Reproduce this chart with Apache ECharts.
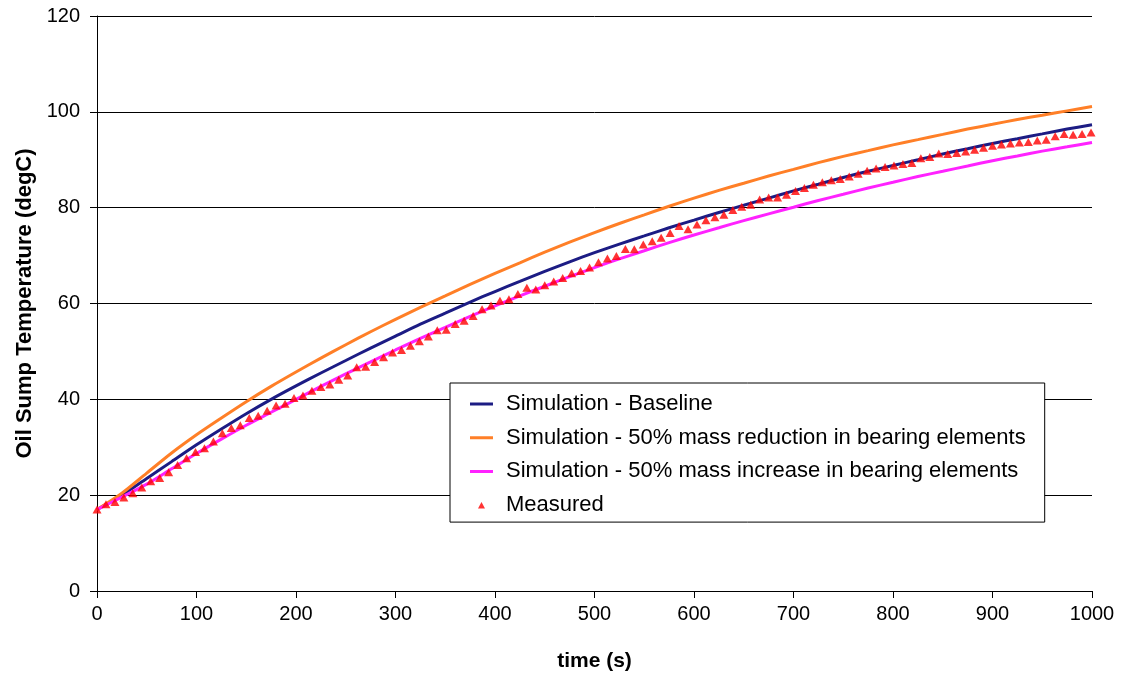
<!DOCTYPE html>
<html>
<head>
<meta charset="utf-8">
<script src="https://cdn.jsdelivr.net/npm/echarts@6/dist/echarts.min.js"></script>
<style>
html,body{margin:0;padding:0;background:#fff;}
#chart{width:1130px;height:675px;}
</style>
</head>
<body>
<div id="chart"></div>
<script>
// Simulation curves (time in s, temperature in degC)
const simTime = [0,25,50,75,100,125,150,175,200,225,250,275,300,325,350,375,400,425,450,475,500,
  525,550,575,600,625,650,675,700,725,750,775,800,825,850,875,900,925,950,975,1000];
const baseline = [17,20.0,23.5,27.0,30.5,33.8,37.0,40.0,42.8,45.5,48.1,50.7,53.2,55.7,58.0,60.3,62.5,64.6,66.7,68.7,70.6,
  72.4,74.1,75.8,77.4,79.0,80.5,82.0,83.5,84.9,86.3,87.6,88.8,90.0,91.2,92.3,93.4,94.4,95.4,96.4,97.3];
const massReduction = [17,20.4,24.6,28.8,32.6,36.1,39.5,42.7,45.7,48.6,51.4,54.1,56.7,59.2,61.6,64.0,66.3,68.5,70.7,72.8,74.8,
  76.7,78.5,80.3,82.0,83.6,85.1,86.6,88.0,89.4,90.7,91.9,93.1,94.2,95.3,96.4,97.4,98.4,99.3,100.2,101.1];
const massIncrease = [17,19.6,22.3,25.5,28.7,31.7,34.6,37.3,40.0,42.7,45.3,47.8,50.3,52.7,55.0,57.3,59.5,61.6,63.6,65.6,67.5,
  69.3,71.0,72.7,74.3,75.8,77.3,78.7,80.1,81.5,82.8,84.1,85.3,86.5,87.6,88.7,89.8,90.8,91.8,92.7,93.6];

// Measured data
const measuredTime = [0,9,18,27,36,45,54,63,72,81,90,99,108,117,126,135,144,153,162,171,180,189,198,207,216,225,234,243,252,
261,270,279,288,297,306,315,324,333,342,351,360,369,378,387,396,405,414,423,432,441,450,459,468,477,486,495,504,
513,522,531,540,549,558,567,576,585,594,603,612,621,630,639,648,657,666,675,684,693,702,711,720,729,738,747,756,
765,774,783,792,801,810,819,828,837,846,855,864,873,882,891,900,909,918,927,936,945,954,963,972,981,990,999];
const measured = [17.0,18.1,18.6,19.5,20.4,21.6,22.9,23.6,24.8,26.3,27.7,29.0,29.8,31.2,32.9,34.0,34.6,36.1,36.6,37.6,38.7,39.1,40.3,40.8,41.8,42.6,43.1,44.1,45.0,
46.7,46.8,47.8,48.8,49.8,50.3,51.2,52.1,53.1,54.4,54.5,55.7,56.4,57.4,58.8,59.6,60.6,60.9,62.0,63.3,62.9,63.8,64.6,65.3,66.3,66.8,67.5,68.6,
69.4,69.9,71.4,71.3,72.3,73.0,73.7,74.7,76.2,75.5,76.5,77.4,78.0,78.5,79.5,80.2,80.6,81.7,82.1,82.1,82.7,83.5,84.1,84.8,85.3,85.7,86.0,86.5,
87.1,87.7,88.2,88.5,88.8,89.1,89.3,90.3,90.6,91.3,91.2,91.4,91.7,92.1,92.5,92.9,93.2,93.4,93.6,93.7,94.0,94.2,94.9,95.4,95.2,95.4,95.7];

const seriesNames = [
  'Simulation - Baseline',
  'Simulation - 50% mass reduction in bearing elements',
  'Simulation - 50% mass increase in bearing elements',
  'Measured'
];
const xTitle = 'time (s)';
const yTitle = 'Oil Sump Temperature (degC)';

const pair = (xs, ys) => xs.map((x, i) => [x, ys[i]]);
const FONT = "'Liberation Sans', Arial, Helvetica, sans-serif";
const LINE_ICON = 'path://M0,0L0,0.01M23,14L23,14.01M0,5.5L23,5.5L23,8.5L0,8.5Z';
const TRI_ICON = 'path://M0,0L0,0.01M23,14L23,14.01M11.5,4L15,10.5L8,10.5Z';

const chart = echarts.init(document.getElementById('chart'));
chart.setOption({
  animation: false,
  backgroundColor: '#fff',
  textStyle: { fontFamily: FONT },
  grid: { left: 97, right: 38, top: 16, bottom: 84, containLabel: false, outerBoundsMode: 'none' },
  xAxis: {
    type: 'value', min: 0, max: 1000, interval: 100,
    name: xTitle, nameLocation: 'middle', nameGap: 60,
    nameTextStyle: { fontSize: 21, fontWeight: 'bold', color: '#000', fontFamily: FONT },
    axisLine: { show: true, onZero: false, lineStyle: { color: '#000', width: 1 } },
    axisTick: { show: true, inside: false, length: 7, lineStyle: { color: '#000' } },
    axisLabel: { fontSize: 20, color: '#000', margin: 13, fontFamily: FONT, formatter: v => String(v) },
    splitLine: { show: false }
  },
  yAxis: {
    type: 'value', min: 0, max: 120, interval: 20,
    name: yTitle, nameLocation: 'middle', nameGap: 58, nameRotate: 90,
    nameTextStyle: { fontSize: 22, fontWeight: 'bold', color: '#000', fontFamily: FONT },
    axisLine: { show: true, onZero: false, lineStyle: { color: '#000', width: 1 } },
    axisTick: { show: true, inside: false, length: 7, lineStyle: { color: '#000' } },
    axisLabel: { fontSize: 20, color: '#000', margin: 17, fontFamily: FONT, formatter: v => String(v) },
    splitLine: { show: true, lineStyle: { color: '#000', width: 1 } }
  },
  legend: {
    orient: 'vertical', left: 450, top: 383,
    backgroundColor: '#fff', borderColor: '#000', borderWidth: 1, borderRadius: 0,
    padding: [10, 19, 6, 20],
    itemGap: 11.7, itemWidth: 23, itemHeight: 14,
    textStyle: { fontSize: 22, lineHeight: 20, color: '#000', fontFamily: FONT, padding: [0, 0, 0, 8] },
    data: [
      { name: seriesNames[0], icon: LINE_ICON },
      { name: seriesNames[1], icon: LINE_ICON },
      { name: seriesNames[2], icon: LINE_ICON },
      { name: seriesNames[3], icon: TRI_ICON }
    ]
  },
  series: [
    {
      name: seriesNames[0], type: 'line', data: pair(simTime, baseline),
      symbol: 'none', smooth: 0.3, lineStyle: { color: '#1c1c84', width: 3 }, itemStyle: { color: '#1c1c84' }, z: 3
    },
    {
      name: seriesNames[1], type: 'line', data: pair(simTime, massReduction),
      symbol: 'none', smooth: 0.3, lineStyle: { color: '#ff7f27', width: 3 }, itemStyle: { color: '#ff7f27' }, z: 3
    },
    {
      name: seriesNames[2], type: 'line', data: pair(simTime, massIncrease),
      symbol: 'none', smooth: 0.3, lineStyle: { color: '#ff22ff', width: 3 }, itemStyle: { color: '#ff22ff' }, z: 3
    },
    {
      name: seriesNames[3], type: 'scatter', data: pair(measuredTime, measured),
      symbol: 'triangle', symbolSize: [9, 8], itemStyle: { color: '#ff0000' }, z: 4
    }
  ]
});
</script>
</body>
</html>
